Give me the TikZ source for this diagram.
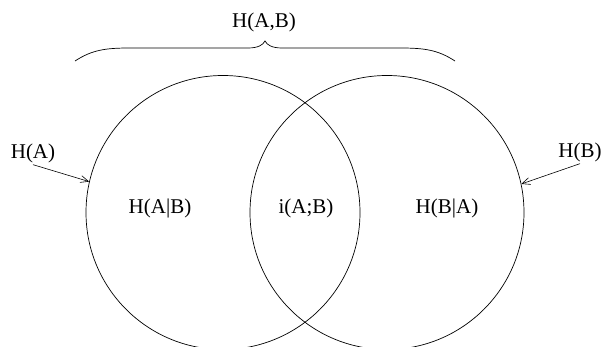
\documentclass[tikz,border=0pt]{standalone}
\usepackage{fontspec}
\setmainfont{Liberation Serif}
\usetikzlibrary{arrows.meta}
\begin{document}
\begin{tikzpicture}[x=1pt,y=-1pt,
  lbl/.style={font=\fontsize{21}{25}\selectfont, inner sep=1pt, anchor=base},
  venn/.style={circle, draw, line width=0.7pt, minimum size=274pt, inner sep=0pt},
  pointer/.style={line width=0.6pt, -{Straight Barb[length=8pt,width=7pt,line width=0.6pt]}},
  bracepath/.style={line width=0.7pt}]
\useasboundingbox (0,0) rectangle (603,347);
\node[venn] (cA) at (223,212.5) {};
\node[venn] (cB) at (387,212.5) {};
\node[lbl] (hAB) at (264,28) {H(A,B)};
\node[lbl] (hA) at (33,159) {H(A)};
\node[lbl] (hB) at (580,158) {H(B)};
\node[lbl] (hAgB) at (160,214) {H(A|B)};
\node[lbl] (iAB) at (306,214) {i(A;B)};
\node[lbl] (hBgA) at (447,214) {H(B|A)};
\draw[pointer] (hA.south) -- (cA.167);
\draw[pointer] (hB.south) -- (cB.12);
\draw[bracepath] (75,61) .. controls (92,50) and (105,48) .. (130,48) -- (248,48)
  .. controls (258,48) and (263,45) .. (265,41)
  .. controls (267,45) and (272,48) .. (282,48) -- (400,48)
  .. controls (425,48) and (438,50) .. (455,61);
\end{tikzpicture}
\end{document}
